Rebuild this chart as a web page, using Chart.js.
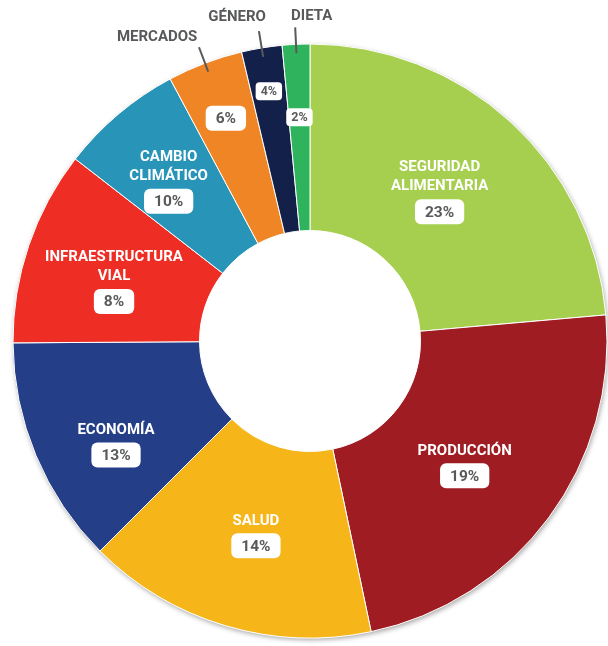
<!DOCTYPE html>
<html>
<head>
<meta charset="utf-8">
<script src="https://cdn.jsdelivr.net/npm/chart.js@4/dist/chart.umd.min.js"></script>
<style>
  html, body { margin: 0; background: #fff; }
  canvas { display: block; }
</style>
</head>
<body>
<canvas id="chart" width="608" height="646"></canvas>
<script>
// slice order: clockwise from 12 o'clock
const categories = ['SEGURIDAD ALIMENTARIA', 'PRODUCCIÓN', 'SALUD', 'ECONOMÍA', 'INFRAESTRUCTURA VIAL',
                    'CAMBIO CLIMÁTICO', 'MERCADOS', 'GÉNERO', 'DIETA'];
// slice sizes as drawn in the picture (angles)
const sliceShare = [23.6, 23.1, 15.8, 12.4, 10.6, 6.7, 4.1, 2.2, 1.5];
// the percentages printed in the badges
const pctLabels = ['23%', '19%', '14%', '13%', '8%', '10%', '6%', '4%', '2%'];
const colors = ['#a6cf4f', '#9e1c22', '#f6b519', '#243f88', '#ee2e25', '#2794b8', '#ef8524', '#13204a', '#2fb45d'];

// label placement tweaks (px) relative to the middle of each slice
const insideNudge = [[-8, 2], [-9, 4], [4, 0], [-6, 26], [-3, 7], [-10, -3]];
const outsideNudge = { 6: [-38, 0], 7: [-20, -3], 8: [17, 0] };
const smallBadgeRadius = { 6: 238, 7: 253, 8: 224 };

const FONT = 'Roboto, "Open Sans", sans-serif';
const GREY = '#58595b';

function badge(ctx, cx, cy, text, small) {
  ctx.font = (small ? 'bold 12.5px ' : 'bold 15.5px ') + FONT;
  const w = ctx.measureText(text).width + (small ? 10 : 20);
  const h = small ? 18 : 25;
  ctx.beginPath();
  ctx.roundRect(cx - w / 2, cy - h / 2, w, h, small ? 4 : 6);
  ctx.fillStyle = '#fff';
  ctx.fill();
  ctx.fillStyle = GREY;
  ctx.textAlign = 'center';
  ctx.textBaseline = 'middle';
  ctx.fillText(text, cx, cy + 1);
}

const sliceLabels = {
  id: 'sliceLabels',
  beforeDatasetsDraw(chart) {
    // soft shadow under the ring
    const ctx = chart.ctx;
    const a = chart.getDatasetMeta(0).data[0];
    ctx.save();
    ctx.shadowColor = 'rgba(0,0,0,0.35)';
    ctx.shadowBlur = 5;
    ctx.shadowOffsetX = 1;
    ctx.shadowOffsetY = 2;
    ctx.beginPath();
    ctx.arc(a.x, a.y, a.outerRadius, 0, Math.PI * 2);
    ctx.fillStyle = '#fff';
    ctx.fill();
    ctx.restore();
  },
  afterDatasetsDraw(chart) {
    const ctx = chart.ctx;
    const arcs = chart.getDatasetMeta(0).data;
    ctx.save();
    arcs.forEach((arc, i) => {
      const { x, y, startAngle, endAngle, innerRadius, outerRadius } = arc;
      const mid = (startAngle + endAngle) / 2;
      const at = r => [x + r * Math.cos(mid), y + r * Math.sin(mid)];
      const lines = categories[i].split(' ');

      if (i < 6) {
        const [px, py] = at((innerRadius + outerRadius) / 2);
        const cx = px + insideNudge[i][0];
        const blockH = (lines.length - 1) * 19 + 25 + 18;
        let ly = py + insideNudge[i][1] - blockH / 2 + 6;
        ctx.font = 'bold 15px ' + FONT;
        ctx.fillStyle = '#fff';
        ctx.textAlign = 'center';
        ctx.textBaseline = 'middle';
        lines.forEach((t, k) => ctx.fillText(t, cx, ly + k * 19));
        badge(ctx, cx, ly + (lines.length - 1) * 19 + 25, pctLabels[i], false);
      } else {
        const [bx, by] = at(smallBadgeRadius[i]);
        badge(ctx, bx, by, pctLabels[i], i !== 6);
        // leader line + outside name
        const [x1, y1] = at(outerRadius + 17);
        const [x2, y2] = at(outerRadius - 9);
        ctx.strokeStyle = GREY;
        ctx.lineWidth = 2;
        ctx.beginPath();
        ctx.moveTo(x1, y1);
        ctx.lineTo(x2, y2);
        ctx.stroke();
        const [tx, ty] = at(outerRadius + 28);
        ctx.font = 'bold 15px ' + FONT;
        ctx.fillStyle = GREY;
        ctx.textAlign = 'center';
        ctx.textBaseline = 'middle';
        ctx.fillText(lines[0], tx + outsideNudge[i][0], ty + outsideNudge[i][1]);
      }
    });
    ctx.restore();
  }
};

new Chart(document.getElementById('chart'), {
  type: 'doughnut',
  data: {
    labels: categories,
    datasets: [{
      data: sliceShare,
      backgroundColor: colors,
      borderColor: '#fff',
      borderWidth: 1,
      hoverOffset: 0,
      radius: 297
    }]
  },
  options: {
    responsive: false,
    animation: false,
    cutout: '37.2%',
    layout: { padding: { left: 12, right: 0, top: 36, bottom: 0 } },
    plugins: {
      legend: { display: false },
      tooltip: { enabled: false }
    }
  },
  plugins: [sliceLabels]
});
</script>
</body>
</html>
